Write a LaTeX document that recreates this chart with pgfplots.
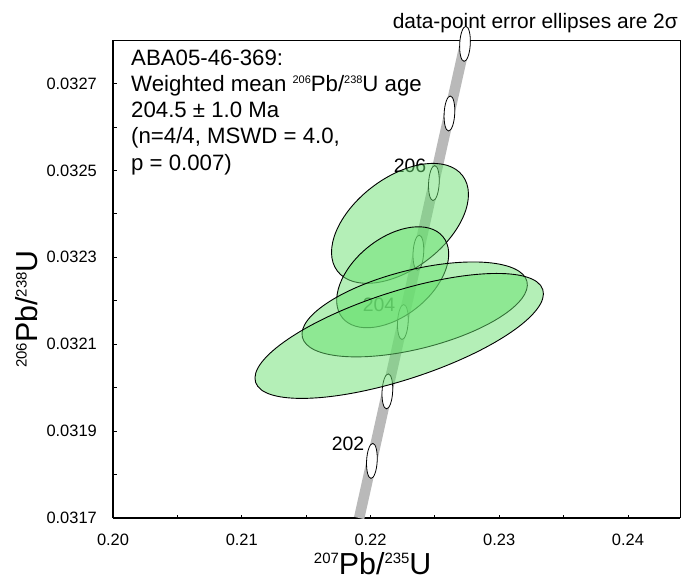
\documentclass[border=0pt]{standalone}
\usepackage{pgfplots}
\pgfplotsset{compat=1.18}
\usepackage{fontspec}
\setmainfont{Liberation Sans}
\definecolor{ellgreen}{RGB}{105,224,112}
\definecolor{bandgray}{RGB}{185,185,185}
\pgfdeclareplotmark{dataell}{%
  \pgftransformrotate{\eang}%
  \pgfpathellipse{\pgfpointorigin}{\pgfpoint{\ea bp}{0bp}}{\pgfpoint{0bp}{\eb bp}}%
  \pgfusepathqfillstroke}
\pgfdeclareplotmark{ageell}{%
  \pgftransformrotate{-3}%
  \pgfpathellipse{\pgfpointorigin}{\pgfpoint{5.3bp}{0bp}}{\pgfpoint{0bp}{17.5bp}}%
  \pgfusepathqfillstroke}
\newcommand\supT[1]{\raisebox{7.9bp}{\fontsize{11}{11}\selectfont #1}}
\newcommand\supL[1]{\raisebox{10.7bp}{\fontsize{15}{15}\selectfont #1}}
\begin{document}
\begin{tikzpicture}
\node[anchor=base east, inner sep=0pt, font=\fontsize{21}{24}\selectfont] at (678bp,552.7bp) {data-point error ellipses are 2σ};
\begin{scope}[every node/.style={anchor=base west, inner sep=0pt, font=\fontsize{22.3}{26}\selectfont}]
\node at (131bp,515.7bp) {ABA05-46-369:};
\node at (131bp,489.5bp) {Weighted mean \supT{206}Pb/\supT{238}U age};
\node at (131bp,463.3bp) {204.5 ± 1.0 Ma};
\node at (131bp,437.1bp) {(n=4/4, MSWD = 4.0,};
\node at (131bp,410.9bp) {p = 0.007)};
\end{scope}
\begin{axis}[
  at={(113bp,63bp)}, anchor=south west,
  scale only axis, width=567bp, height=478bp,
  xmin=0.20, xmax=0.24404, ymin=0.0317, ymax=0.03280,
  clip=false,
  axis lines=left, axis line style={-, line width=1.6bp},
  tick align=inside, major tick length=3.5bp, minor tick length=3.5bp,
  tick style={black, line width=0.8bp},
  xtick={0.20,0.21,0.22,0.23,0.24},
  minor xtick={0.205,0.215,0.225,0.235},
  ytick={0.0317,0.0319,0.0321,0.0323,0.0325,0.0327},
  minor ytick={0.0318,0.0320,0.0322,0.0324,0.0326},
  scaled ticks=false,
  /pgf/number format/assume math mode=true,
  x tick label style={font=\fontsize{16.5}{18}\selectfont, inner sep=0pt, anchor=north, yshift=-16bp,
    /pgf/number format/fixed, /pgf/number format/fixed zerofill, /pgf/number format/precision=2},
  y tick label style={font=\fontsize{16.5}{18}\selectfont, inner sep=0pt, anchor=east, xshift=-16bp,
    /pgf/number format/fixed, /pgf/number format/fixed zerofill, /pgf/number format/precision=4},
  xlabel={\supL{207}Pb/\supL{235}U},
  ylabel={\supL{206}Pb/\supL{238}U},
  xlabel style={at={(axis description cs:0.458,0)}, anchor=base, yshift=-56.5bp, font=\fontsize{30.5}{32}\selectfont, inner sep=0pt},
  ylabel style={at={(axis description cs:-0.1335,0.437)}, anchor=base, font=\fontsize{30.5}{32}\selectfont, inner sep=0pt},
]
% concordia uncertainty band
\addplot[bandgray, line width=10.5bp, line cap=butt] coordinates {
 (0.219120,0.0317000) (0.220109,0.0318314) (0.221311,0.0319914) (0.222514,0.0321510)
 (0.223719,0.0323106) (0.224924,0.0324707) (0.226131,0.0326309) (0.227340,0.0327911)
 (0.227407,0.0328000)};
% age markers 202..208 Ma
\addplot[only marks, mark=ageell, mark options={fill=white, draw=black, line width=0.8bp}] coordinates {
 (0.220109,0.0318314) (0.221311,0.0319914) (0.222514,0.0321510) (0.223719,0.0323106)
 (0.224924,0.0324707) (0.226131,0.0326309) (0.227340,0.0327911)};
% age labels
\addplot[only marks, mark=*, mark size=0pt, mark options={draw opacity=0, fill opacity=0},
  nodes near coords, point meta=explicit symbolic,
  nodes near coords style={anchor=base east, inner sep=0pt, xshift=-7.5bp, yshift=10.5bp,
    font=\fontsize{19.5}{20}\selectfont, text=black, text opacity=1, fill opacity=1}]
  table[meta=lab] {
x y lab
0.220109 0.0318314 202
0.222514 0.0321510 204
0.224924 0.0324707 206
};
% data-point error ellipses (2 sigma)
\addplot[scatter, only marks, mark=dataell, point meta=x,
  scatter/use mapped color={draw=black, fill=ellgreen},
  mark options={fill opacity=0.5, line width=0.9bp},
  visualization depends on={value \thisrow{a}\as\ea},
  visualization depends on={value \thisrow{b}\as\eb},
  visualization depends on={value \thisrow{ang}\as\eang}]
  table {
x y a b ang
0.222291 0.032378 78.7 45.7 37.3
0.221724 0.032254 64.6 38.9 38.6
0.223433 0.032180 115.7 39.5 14.0
0.222229 0.032119 150.9 44.0 17.9
};
\draw[line width=0.8bp, black] (rel axis cs:0,1) -- (rel axis cs:1,1) -- (rel axis cs:1,0);
\end{axis}
\pgfresetboundingbox
\path (0bp,0bp) rectangle (682bp,581bp);
\end{tikzpicture}
\end{document}
